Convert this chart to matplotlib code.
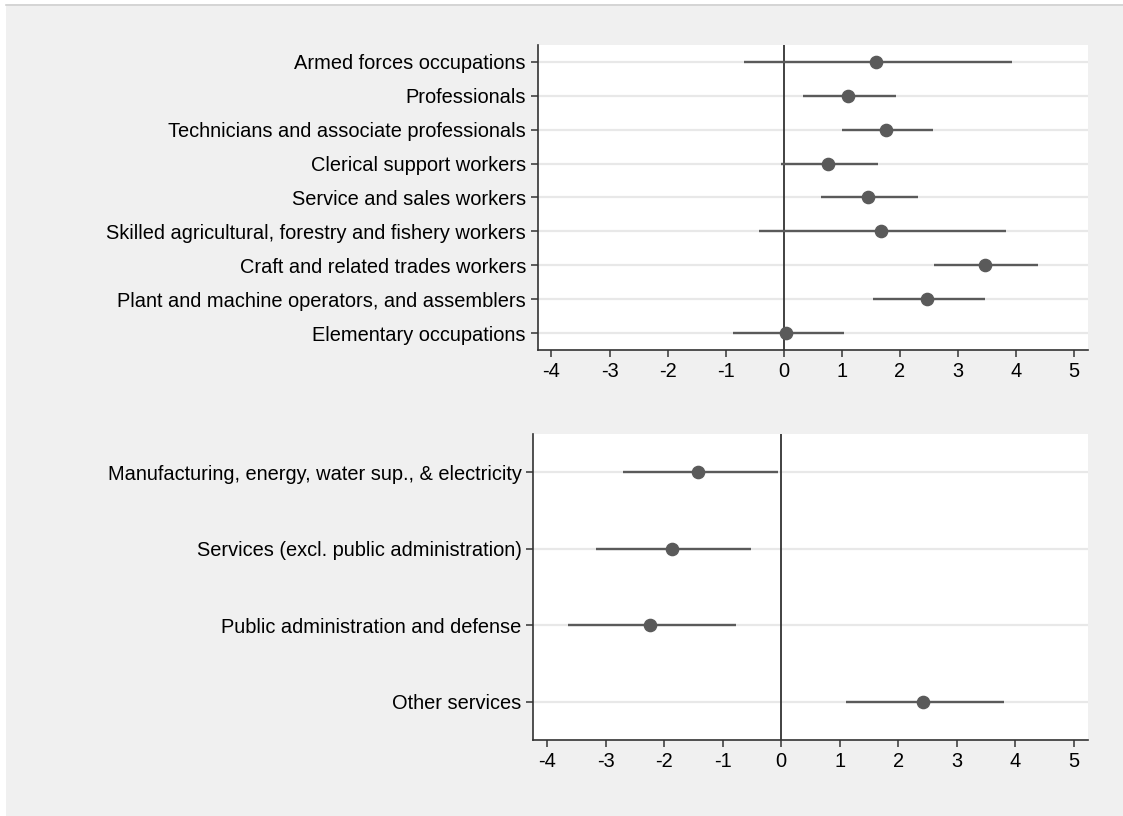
import matplotlib
matplotlib.use("Agg")
import matplotlib.pyplot as plt
from matplotlib.patches import Rectangle
from matplotlib.lines import Line2D

plt.rcParams['font.family'] = ['Liberation Sans', 'DejaVu Sans']

# occupations (top panel)
occ_labels = ["Armed forces occupations",
              "Professionals",
              "Technicians and associate professionals",
              "Clerical support workers",
              "Service and sales workers",
              "Skilled agricultural, forestry and fishery workers",
              "Craft and related trades workers",
              "Plant and machine operators, and assemblers",
              "Elementary occupations"]
occ_coef = [1.59, 1.11, 1.76, 0.76, 1.45, 1.67, 3.46, 2.47, 0.04]
occ_lo = [-0.69, 0.34, 1.00, -0.04, 0.64, -0.43, 2.59, 1.53, -0.87]
occ_hi = [3.93, 1.93, 2.57, 1.62, 2.31, 3.82, 4.38, 3.47, 1.03]

# sectors (bottom panel)
sec_labels = ["Manufacturing, energy, water sup., & electricity",
              "Services (excl. public administration)",
              "Public administration and defense",
              "Other services"]
sec_coef = [-1.42, -1.87, -2.24, 2.42]
sec_lo = [-2.71, -3.16, -3.65, 1.10]
sec_hi = [-0.06, -0.52, -0.77, 3.80]

xticks = [-4, -3, -2, -1, 0, 1, 2, 3, 4, 5]

dark = '#5a5a5a'

fig = plt.figure(figsize=(11.23, 8.16), dpi=100)
fig.patch.set_facecolor('#f0f0f0')
# white margin on the left and top, with a thin border line on top
fig.patches.append(Rectangle((0, 0), 6/1123, 1, transform=fig.transFigure,
                             facecolor='white', edgecolor='none', zorder=-5))
fig.patches.append(Rectangle((0, 1 - 4/816), 1, 4/816, transform=fig.transFigure,
                             facecolor='white', edgecolor='none', zorder=-5))
fig.lines.append(Line2D([6/1123, 1], [1 - 4.5/816, 1 - 4.5/816], transform=fig.transFigure,
                        color='#d0d0d0', lw=1.2, zorder=-4))


def panel(rect, labels, coef, lo, hi):
    ax = fig.add_axes(rect)
    ax.set_facecolor('white')
    n = len(labels)
    ys = list(range(1, n + 1))
    for y in ys:
        ax.axhline(y, color='#e8e8e8', lw=1.6, zorder=1)
    ax.axvline(0, color='#333333', lw=1.3, zorder=2)
    ax.hlines(ys, lo, hi, color=dark, lw=1.7, zorder=3)
    ax.plot(coef, ys, 'o', color=dark, ms=8.8, zorder=4)
    ax.set_ylim(n + 0.5, 0.5)
    ax.set_xlim(-4.24, 5.23)
    ax.set_yticks(ys)
    ax.set_yticklabels(labels)
    ax.set_xticks(xticks)
    ax.set_xticklabels([str(t) for t in xticks])
    for s in ['top', 'right']:
        ax.spines[s].set_visible(False)
    for s in ['left', 'bottom']:
        ax.spines[s].set_color('#333333')
        ax.spines[s].set_linewidth(1.2)
    ax.tick_params(axis='both', labelsize=14.4, length=5.3, width=1.1,
                   color='#333333', pad=3)
    return ax


panel([537.5/1123, 1 - 350/816, 550/1123, 305/816], occ_labels, occ_coef, occ_lo, occ_hi)
panel([533/1123, 1 - 740/816, 554.5/1123, 306/816], sec_labels, sec_coef, sec_lo, sec_hi)

fig.savefig('out.png', dpi=100, facecolor=fig.get_facecolor())
